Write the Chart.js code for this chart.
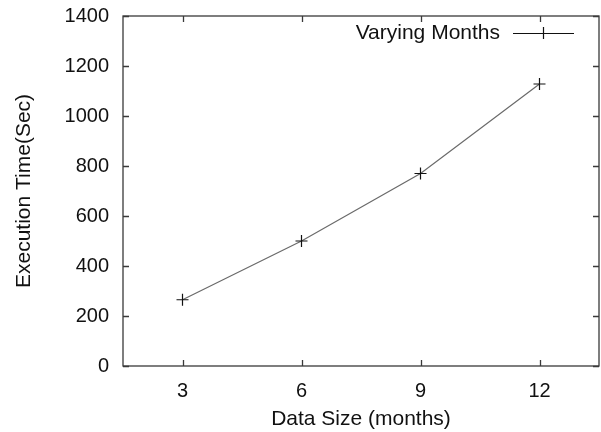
<!DOCTYPE html>
<html>
<head>
<meta charset="utf-8">
<script src="https://cdn.jsdelivr.net/npm/chart.js@4/dist/chart.umd.min.js"></script>
<style>
  html, body { margin: 0; padding: 0; background: #fff; overflow: hidden; }
  canvas { display: block; }
</style>
</head>
<body>
<canvas id="chart" width="601" height="432"></canvas>
<script>
// data
const months = [3, 6, 9, 12];
const execTime = [265, 500, 770, 1128];
const xTicks = [3, 6, 9, 12];
const yTicks = [0, 200, 400, 600, 800, 1000, 1200, 1400];
const seriesLabel = 'Varying Months';

const FONT = "'Liberation Sans', Arial, sans-serif";
const AXIS = '#3a3a3a';
const TEXT = '#111';

// gnuplot style: box round the plot, inward ticks on all four sides, key top right
const gnuplotFrame = {
    id: 'gnuplotFrame',
    afterDatasetsDraw(chart) {
        const { ctx, chartArea: a, scales } = chart;
        const t = 6;
        ctx.save();
        ctx.strokeStyle = AXIS;
        ctx.lineWidth = 1.3;
        ctx.strokeRect(a.left, a.top, a.right - a.left, a.bottom - a.top);
        ctx.beginPath();
        xTicks.forEach(v => {
            const x = Math.round(scales.x.getPixelForValue(v)) + 0.5;
            ctx.moveTo(x, a.bottom); ctx.lineTo(x, a.bottom - t);
            ctx.moveTo(x, a.top); ctx.lineTo(x, a.top + t);
        });
        yTicks.forEach(v => {
            const y = Math.round(scales.y.getPixelForValue(v)) + 0.5;
            ctx.moveTo(a.left, y); ctx.lineTo(a.left + t, y);
            ctx.moveTo(a.right, y); ctx.lineTo(a.right - t, y);
        });
        ctx.stroke();

        // key
        const ds = chart.data.datasets[0];
        const ky = a.top + 17;
        ctx.font = '21px ' + FONT;
        ctx.fillStyle = TEXT;
        ctx.textAlign = 'right';
        ctx.textBaseline = 'middle';
        ctx.fillText(ds.label, a.right - 99, ky);
        ctx.strokeStyle = '#111';
        ctx.lineWidth = 1.2;
        ctx.beginPath();
        ctx.moveTo(a.right - 86, ky + 0.5); ctx.lineTo(a.right - 25, ky + 0.5);
        const cx = a.right - 56;
        ctx.moveTo(cx + 0.5, ky - 6); ctx.lineTo(cx + 0.5, ky + 6);
        ctx.stroke();
        ctx.restore();
    }
};

new Chart(document.getElementById('chart'), {
    type: 'line',
    data: {
        datasets: [{
            label: seriesLabel,
            data: months.map((m, i) => ({ x: m, y: execTime[i] })),
            borderColor: '#6a6a6a',
            borderWidth: 1.2,
            pointStyle: 'cross',
            pointRadius: 6,
            pointBorderColor: '#111',
            pointBorderWidth: 1.2,
            tension: 0,
            fill: false
        }]
    },
    options: {
        responsive: false,
        animation: false,
        layout: { autoPadding: false, padding: { top: 16, right: 2, left: 0, bottom: 0 } },
        plugins: {
            legend: { display: false },
            tooltip: { enabled: false }
        },
        scales: {
            x: {
                type: 'linear',
                min: 1.5,
                max: 13.5,
                afterBuildTicks: s => { s.ticks = xTicks.map(v => ({ value: v })); },
                afterFit: s => { s.height = 66; s.paddingLeft = 0; s.paddingRight = 0; },
                grid: { display: false, drawTicks: false },
                border: { display: false },
                ticks: { color: TEXT, font: { family: FONT, size: 20 }, padding: 13 },
                title: {
                    display: true,
                    text: 'Data Size (months)',
                    color: TEXT,
                    font: { family: FONT, size: 21 },
                    padding: { top: 0, bottom: 0 }
                }
            },
            y: {
                min: 0,
                max: 1400,
                afterBuildTicks: s => { s.ticks = yTicks.map(v => ({ value: v })); },
                afterFit: s => { s.width = 123; s.paddingTop = 0; s.paddingBottom = 0; },
                grid: { display: false, drawTicks: false },
                border: { display: false },
                ticks: {
                    color: TEXT,
                    font: { family: FONT, size: 20 },
                    padding: 14,
                    callback: v => String(v)
                },
                title: {
                    display: true,
                    text: 'Execution Time(Sec)',
                    color: TEXT,
                    font: { family: FONT, size: 21 },
                    padding: { top: 12, bottom: 0 }
                }
            }
        }
    },
    plugins: [gnuplotFrame]
});
</script>
</body>
</html>
